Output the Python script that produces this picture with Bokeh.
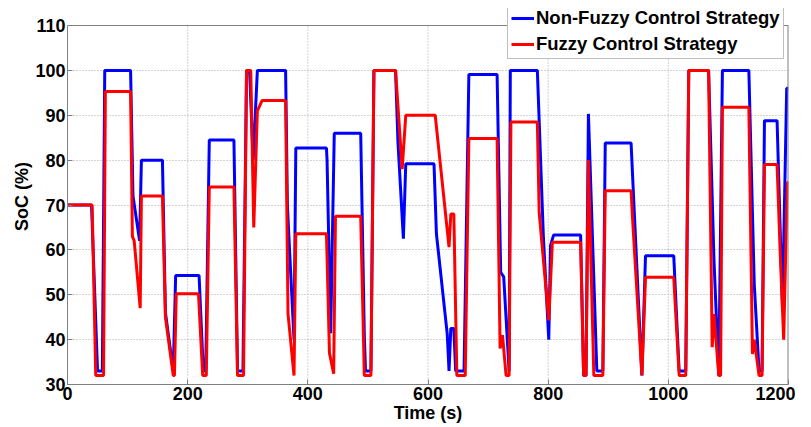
from bokeh.plotting import figure
from bokeh.models import Legend, LegendItem, FixedTicker, ColumnDataSource, Span
from bokeh.embed import file_html
from bokeh.resources import INLINE

# ---- data ----
nonfuzzy_t = [0, 40, 50, 58, 62, 105, 109, 120, 123, 158, 163, 176, 180, 219, 226, 230,
              236, 277, 283, 292, 298, 303, 309, 316, 363, 366, 369, 377, 380, 431, 432,
              438, 444, 488, 490, 494, 496, 505, 510, 546, 550, 559, 563, 610, 614, 632,
              635, 638, 643, 646, 660, 668, 715, 721, 726, 735, 737, 782, 792, 801, 804,
              809, 854, 859, 863, 867, 881, 891, 895, 938, 944, 956, 962, 1009, 1018,
              1029, 1034, 1067, 1076, 1084, 1090, 1134, 1143, 1151, 1156, 1160, 1181,
              1185, 1190, 1197, 1200]
nonfuzzy_soc = [70, 70, 33, 33, 100, 100, 72, 62, 80, 80, 46, 33, 54.3, 54.3, 33, 33,
                84.5, 84.5, 33, 33, 100, 100, 80, 100, 100, 70, 61.5, 40, 82.7, 82.7, 80,
                41.4, 86, 86, 71, 41, 33, 33, 100, 100, 84, 62.5, 79.2, 79.2, 63.6, 41.3,
                33, 42.5, 42.5, 33, 33, 99.1, 99.1, 55, 54, 33, 100, 100, 63, 40, 61,
                63.3, 63.3, 32, 32, 90.3, 33, 33, 83.8, 83.8, 66.5, 32, 58.7, 58.7, 33,
                33, 100, 100, 57.6, 32, 100, 100, 52.4, 33, 33, 88.8, 88.8,
                70, 47, 96, 96]

fuzzy_t = [0, 41, 47, 60, 63, 105, 108, 111, 121, 123, 158, 163, 176, 178, 181, 218,
           225, 231, 236, 277, 283, 293, 298, 305, 310, 316, 324, 363, 367, 377, 380,
           431, 436, 443, 446, 488, 494, 505, 510, 546, 557, 563, 612, 635, 638, 643,
           648, 662, 668, 715, 720, 724, 730, 735, 738, 782, 785, 801, 807, 854, 859,
           863, 867, 876, 891, 895, 938, 940, 956, 962, 1009, 1018, 1029, 1034, 1067,
           1073, 1076, 1084, 1087, 1090, 1134, 1140, 1143, 1151, 1156, 1160, 1181,
           1186, 1192, 1198, 1200]
fuzzy_soc = [70, 70, 32, 32, 95.3, 95.3, 63, 62, 47, 72, 72, 45, 32, 32, 50.2, 50.2,
             32, 32, 74, 74, 32, 32, 100, 100, 65, 91, 93.3, 93.3, 45.8, 32, 63.6,
             63.6, 37, 32.4, 67.5, 67.5, 32, 32, 100, 100, 78, 90, 90, 60.6, 68, 68,
             32, 32, 84.8, 84.8, 38, 41, 32, 32, 88.5, 88.5, 68.4, 44.3, 61.7, 61.7, 32,
             32, 80, 32, 32, 73.2, 73.2, 68, 32, 53.9, 53.9, 32, 32, 100, 100,
             38.3, 45.7, 32, 32, 91.8, 91.8, 36.8, 40, 32, 32, 79, 79,
             60, 40, 75, 75]

x_ticks = [0, 200, 400, 600, 800, 1000, 1200]
y_ticks = [30, 40, 50, 60, 70, 80, 90, 100, 110]
series_names = ["Non-Fuzzy Control Strategy", "Fuzzy Control Strategy"]

FONT = "Liberation Sans"
GRAY = "#808080"
X_MIN, X_MAX = x_ticks[0], x_ticks[-1]
Y_MIN, Y_MAX = y_ticks[0], y_ticks[-1]
# frame extends a little above the axes box so the legend can sit over the box top
Y_TOP = Y_MIN + 376 / (359 / (Y_MAX - Y_MIN))

p = figure(width=795, height=427, x_range=(X_MIN, X_MAX), y_range=(Y_MIN, Y_TOP),
           output_backend="svg", toolbar_location=None,
           min_border_left=67, min_border_right=7, min_border_top=8,
           min_border_bottom=43, background_fill_color="white",
           border_fill_color="white")

p.outline_line_color = None

# vertical dotted grid lines, limited to the axes box
inner_x = x_ticks[1:-1]
p.segment(x0=inner_x, y0=[Y_MIN] * len(inner_x), x1=inner_x, y1=[Y_MAX] * len(inner_x),
          line_color="#a8a8a8", line_dash="1 2", line_width=1)
p.xgrid.visible = False
p.ygrid.ticker = FixedTicker(ticks=y_ticks)
p.ygrid.grid_line_color = "#a8a8a8"
p.ygrid.grid_line_dash = "1 2"

r_blue = p.line(x="t", y="v", source=ColumnDataSource(dict(t=nonfuzzy_t, v=nonfuzzy_soc)),
                line_color="#0000ff", line_width=3)
r_red = p.line(x="t", y="v", source=ColumnDataSource(dict(t=fuzzy_t, v=fuzzy_soc)),
               line_color="#ff0000", line_width=3)

# top and right edges of the axes box
p.add_layout(Span(location=Y_MAX, dimension="width", line_color=GRAY, line_width=1))
p.segment(x0=[X_MAX], y0=[Y_MIN], x1=[X_MAX], y1=[Y_MAX], line_color=GRAY, line_width=2)

p.xaxis.ticker = FixedTicker(ticks=x_ticks)
p.yaxis.ticker = FixedTicker(ticks=y_ticks)
p.yaxis.bounds = (Y_MIN, Y_MAX)
for ax in (p.xaxis, p.yaxis):
    ax.major_label_text_font = FONT
    ax.major_label_text_font_style = "bold"
    ax.major_label_text_font_size = "18px"
    ax.major_label_text_color = "black"
    ax.axis_label_text_font = FONT
    ax.axis_label_text_font_style = "bold"
    ax.axis_label_text_font_size = "18px"
    ax.axis_label_text_color = "black"
    ax.axis_line_color = GRAY
    ax.major_tick_line_color = GRAY
    ax.major_tick_in = 5
    ax.major_tick_out = 0
    ax.minor_tick_line_color = None
    ax.major_label_standoff = 2

p.xaxis.axis_label = "Time (s)"
p.yaxis.axis_label = "SoC (%)"
p.xaxis.axis_label_standoff = 0
p.yaxis.axis_label_standoff = 0

legend = Legend(items=[LegendItem(label=series_names[0], renderers=[r_blue]),
                       LegendItem(label=series_names[1], renderers=[r_red])],
                location=(440, 325), orientation="vertical",
                label_text_font=FONT, label_text_font_style="bold",
                label_text_font_size="18.5px", label_text_color="black",
                glyph_width=23, glyph_height=20, label_height=20, label_standoff=2,
                spacing=4, padding=3, margin=0,
                border_line_color=GRAY, border_line_width=1,
                background_fill_color="white", background_fill_alpha=1)
p.add_layout(legend, "center")

open("out.html", "w").write(file_html(p, INLINE))
